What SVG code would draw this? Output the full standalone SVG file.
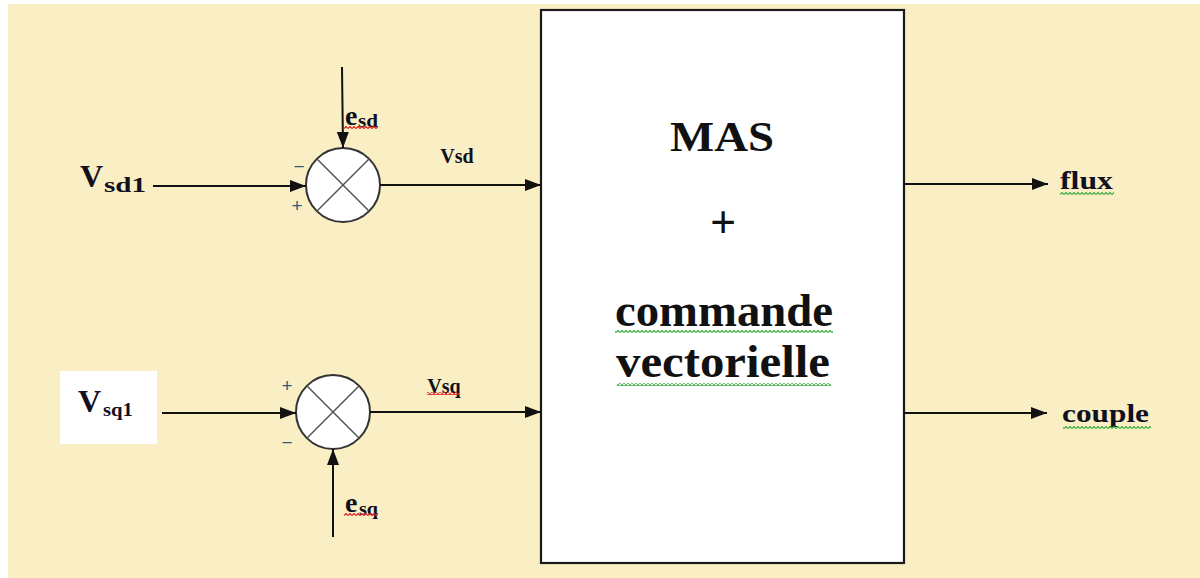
<svg xmlns="http://www.w3.org/2000/svg" width="1200" height="578" viewBox="0 0 1200 578">
<style>
.lbl{font-family:"Liberation Serif","Times New Roman",serif;font-weight:bold;fill:#10101e}
.sign{font-family:"Liberation Sans",Arial,sans-serif;font-size:19px;fill:#2b5d7a;text-anchor:middle}
.wire{stroke:#111;stroke-width:2;fill:none}
.sum circle{fill:#fff;stroke:#333;stroke-width:2}
.sum line{stroke:#555;stroke-width:1.5}
.big{font-family:"Liberation Serif","Times New Roman",serif;font-weight:bold;fill:#111;text-anchor:middle}
</style>
<defs>
<marker id="ah" markerUnits="userSpaceOnUse" markerWidth="16" markerHeight="12" refX="16" refY="6" orient="auto">
<path d="M0,0 L16,6 L0,12 z" fill="#111"/>
</marker>
<pattern id="sqr" patternUnits="userSpaceOnUse" width="4" height="3">
<polyline points="0,2.5 2,0.5 4,2.5" fill="none" stroke="#e02020" stroke-width="1.2"/>
</pattern>
<pattern id="sqg" patternUnits="userSpaceOnUse" width="4" height="3">
<polyline points="0,2.5 2,0.5 4,2.5" fill="none" stroke="#3cb043" stroke-width="1.2"/>
</pattern>
</defs>
<rect x="8" y="4" width="1192" height="574" fill="#FAEFC4"/>

<g id="mas-box">
<rect x="541" y="10" width="363" height="553" fill="#fff" stroke="#1a1a1a" stroke-width="2.2"/>
<text class="big" x="722" y="151" font-size="43" textLength="104" lengthAdjust="spacingAndGlyphs">MAS</text>
<text class="big" x="723" y="238" font-size="46" font-weight="normal">+</text>
<text class="big" x="724" y="326" font-size="46" textLength="218" lengthAdjust="spacingAndGlyphs">commande</text>
<text class="big" x="723" y="377" font-size="46" textLength="214" lengthAdjust="spacingAndGlyphs">vectorielle</text>
<rect x="615" y="330" width="218" height="3" fill="url(#sqg)"/>
<rect x="617" y="383" width="214" height="3" fill="url(#sqg)"/>
</g>

<g id="vsd1">
<text class="lbl" x="80" y="187" font-size="32">V</text>
<text class="lbl" x="104" y="192" font-size="20" textLength="42" lengthAdjust="spacingAndGlyphs">sd1</text>
</g>

<g id="vsq1">
<rect x="60" y="371" width="97" height="73" fill="#fff"/>
<text class="lbl" x="78" y="412" font-size="32">V</text>
<text class="lbl" x="103" y="416" font-size="19" textLength="30" lengthAdjust="spacingAndGlyphs">sq1</text>
</g>

<g id="sum1" class="sum">
<circle cx="343" cy="185" r="37"/>
<line x1="316.8" y1="158.8" x2="369.2" y2="211.2"/>
<line x1="369.2" y1="158.8" x2="316.8" y2="211.2"/>
<text class="sign" x="299" y="173">−</text>
<text class="sign" x="297" y="212">+</text>
</g>

<g id="sum2" class="sum">
<circle cx="333" cy="412" r="37"/>
<line x1="306.8" y1="385.8" x2="359.2" y2="438.2"/>
<line x1="359.2" y1="385.8" x2="306.8" y2="438.2"/>
<text class="sign" x="287" y="392">+</text>
<text class="sign" x="287" y="449">−</text>
</g>

<g id="esd">
<text class="lbl" x="345" y="125" font-size="28">e</text>
<text class="lbl" x="358" y="127" font-size="18" textLength="20" lengthAdjust="spacingAndGlyphs">sd</text>
<rect x="344" y="126" width="34" height="3" fill="url(#sqr)"/>
</g>

<g id="esq">
<text class="lbl" x="345" y="512" font-size="28">e</text>
<text class="lbl" x="359" y="515" font-size="18" textLength="19" lengthAdjust="spacingAndGlyphs">sq</text>
<rect x="344" y="513" width="34" height="3" fill="url(#sqr)"/>
</g>

<g id="vsd-label">
<text class="lbl" x="457" y="163" font-size="20" text-anchor="middle">Vsd</text>
</g>

<g id="vsq-label">
<text class="lbl" x="444" y="393" font-size="20" text-anchor="middle">Vsq</text>
<rect x="427" y="392" width="32" height="3" fill="url(#sqr)"/>
</g>

<g id="flux">
<text class="lbl" x="1060" y="189" font-size="26" textLength="53" lengthAdjust="spacingAndGlyphs">flux</text>
<rect x="1060" y="192" width="54" height="3" fill="url(#sqg)"/>
</g>

<g id="couple">
<text class="lbl" x="1062" y="422" font-size="26" textLength="87" lengthAdjust="spacingAndGlyphs">couple</text>
<rect x="1063" y="426" width="88" height="3" fill="url(#sqg)"/>
</g>

<g id="connectors">
<line class="wire" x1="153" y1="186" x2="306" y2="186" marker-end="url(#ah)"/>
<line class="wire" x1="342" y1="67" x2="343" y2="148" marker-end="url(#ah)"/>
<line class="wire" x1="380" y1="185" x2="541" y2="185" marker-end="url(#ah)"/>
<line class="wire" x1="162" y1="413" x2="296" y2="413" marker-end="url(#ah)"/>
<line class="wire" x1="333" y1="537" x2="333" y2="449" marker-end="url(#ah)"/>
<line class="wire" x1="370" y1="412" x2="541" y2="412" marker-end="url(#ah)"/>
<line class="wire" x1="903" y1="184" x2="1048" y2="184" marker-end="url(#ah)"/>
<line class="wire" x1="903" y1="413" x2="1047" y2="413" marker-end="url(#ah)"/>
</g>
</svg>
